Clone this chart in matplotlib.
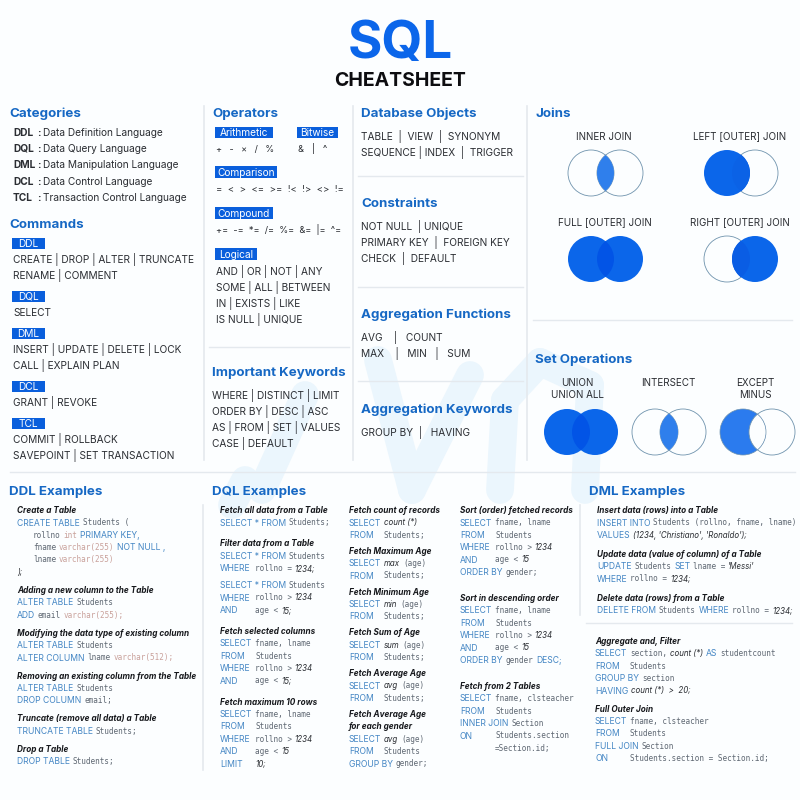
import matplotlib
matplotlib.use("Agg")
import matplotlib.pyplot as plt
from matplotlib.patches import Circle, Rectangle

plt.rcParams['font.family'] = ['Inter', 'DejaVu Sans']

BLUE = "#0b66ea"
TAG = "#0a5fdc"
HEAD = "#1668c4"
KW = "#4486c4"
INK = "#2b2e33"
MONO = "#5f6873"
PINK = "#c9a19b"
RULE = "#e4e9ee"
PALE = "#ebf6fd"

# text of the cheat sheet
categories = [("DDL", "Data Definition Language"), ("DQL", "Data Query Language"),
              ("DML", "Data Manipulation Language"), ("DCL", "Data Control Language"),
              ("TCL", "Transaction Control Language")]
commands = [("DDL", ["CREATE | DROP | ALTER | TRUNCATE", "RENAME | COMMENT"]),
            ("DQL", ["SELECT"]),
            ("DML", ["INSERT | UPDATE | DELETE | LOCK", "CALL | EXPLAIN PLAN"]),
            ("DCL", ["GRANT | REVOKE"]),
            ("TCL", ["COMMIT | ROLLBACK", "SAVEPOINT | SET TRANSACTION"])]
arithmetic = "+   -   ×   /   %"
bitwise = "&   |   ^"
comparison = "=  <  >  <=  >=  !<  !>  <>  !="
compound = "+=  -=  *=  /=  %=  &=  |=  ^="
logical = ["AND | OR | NOT | ANY", "SOME | ALL | BETWEEN", "IN | EXISTS | LIKE", "IS NULL | UNIQUE"]
keywords = ["WHERE | DISTINCT | LIMIT", "ORDER BY | DESC | ASC", "AS | FROM | SET | VALUES", "CASE | DEFAULT"]
db_objects = ["TABLE  |  VIEW  |  SYNONYM", "SEQUENCE | INDEX  |  TRIGGER"]
constraints = ["NOT NULL  | UNIQUE", "PRIMARY KEY  |  FOREIGN KEY", "CHECK  |  DEFAULT"]
agg_functions = ["AVG    |   COUNT", "MAX    |   MIN   |   SUM"]
agg_keywords = ["GROUP BY  |   HAVING"]

# k keyword, m mono, p pink mono, i italic, t jump to column, n indent
ddl_examples = [
    ("Create a Table", ["k:CREATE TABLE|m:Students (", "n|m:rollno|p:int|k:PRIMARY KEY,",
                        "n|m:fname|p:varchar(255)|k:NOT NULL ,", "n|m:lname|p:varchar(255)", "i:);"]),
    ("Adding a new column to the Table", ["k:ALTER TABLE|m:Students", "k:ADD|m:email|p:varchar(255);"]),
    ("Modifying the data type of existing column", ["k:ALTER TABLE|m:Students", "k:ALTER COLUMN|m:lname|p:varchar(512);"]),
    ("Removing an existing column from the Table", ["k:ALTER TABLE|m:Students", "k:DROP COLUMN|m:email;"]),
    ("Truncate (remove all data) a Table", ["k:TRUNCATE TABLE|m:Students;"]),
    ("Drop a Table", ["k:DROP TABLE|m:Students;"]),
]
dql_examples = [
    ("Fetch all data from a Table", ["k:SELECT * FROM|m:Students;"]),
    ("Filter data from a Table", ["k:SELECT * FROM|m:Students", "k:WHERE|t|m:rollno =|i:1234;"]),
    (None, ["k:SELECT * FROM|m:Students", "k:WHERE|t|m:rollno >|i:1234", "k:AND|t|m:age <|i:15;"]),
    ("Fetch selected columns", ["k:SELECT|t|m:fname, lname", "k:FROM|t|m:Students",
                                "k:WHERE|t|m:rollno >|i:1234", "k:AND|t|m:age <|i:15;"]),
    ("Fetch maximum 10 rows", ["k:SELECT|t|m:fname, lname", "k:FROM|t|m:Students", "k:WHERE|t|m:rollno >|i:1234",
                               "k:AND|t|m:age <|i:15", "k:LIMIT|t|i:10;"]),
]
agg_examples = [
    ("Fetch count of records", ["k:SELECT|i:count (*)", "k:FROM|t|m:Students;"]),
    ("Fetch Maximum Age", ["k:SELECT|i:max|m:(age)", "k:FROM|t|m:Students;"]),
    ("Fetch Minimum Age", ["k:SELECT|i:min|m:(age)", "k:FROM|t|m:Students;"]),
    ("Fetch Sum of Age", ["k:SELECT|i:sum|m:(age)", "k:FROM|t|m:Students;"]),
    ("Fetch Average Age", ["k:SELECT|i:avg|m:(age)", "k:FROM|t|m:Students;"]),
    ("Fetch Average Age\nfor each gender", ["k:SELECT|i:avg|m:(age)", "k:FROM|t|m:Students", "k:GROUP BY|m:gender;"]),
]
sort_examples = [
    ("Sort (order) fetched records", ["k:SELECT|t|m:fname, lname", "k:FROM|t|m:Students", "k:WHERE|t|m:rollno >|i:1234",
                                      "k:AND|t|m:age <|i:15", "k:ORDER BY|m:gender;"]),
    ("Sort in descending order", ["k:SELECT|t|m:fname, lname", "k:FROM|t|m:Students", "k:WHERE|t|m:rollno >|i:1234",
                                  "k:AND|t|m:age <|i:15", "k:ORDER BY|m:gender|k:DESC;"]),
    ("Fetch from 2 Tables", ["k:SELECT|t|m:fname, clsteacher", "k:FROM|t|m:Students", "k:INNER JOIN|m:Section",
                             "k:ON|t|m:Students.section", "t|m:=Section.id;"]),
]
dml_examples = [
    ("Insert data (rows) into a Table", ["k:INSERT INTO|m:Students (rollno, fname, lname)",
                                         "k:VALUES|i:(1234, 'Christiano', 'Ronaldo');"]),
    ("Update data (value of column) of a Table", ["k:UPDATE|m:Students|k:SET|m:lname =|i:'Messi'",
                                                  "k:WHERE|m:rollno =|i:1234;"]),
    ("Delete data (rows) from a Table", ["k:DELETE FROM|m:Students|k:WHERE|m:rollno =|i:1234;"]),
]
other_examples = [
    ("Aggregate and, Filter", ["k:SELECT|m:section,|i:count (*)|k:AS|m:studentcount", "k:FROM|t|m:Students",
                               "k:GROUP BY|m:section", "k:HAVING|i:count (*)  >  20;"]),
    ("Full Outer Join", ["k:SELECT|t|m:fname, clsteacher", "k:FROM|t|m:Students", "k:FULL JOIN|m:Section",
                         "k:ON|t|m:Students.section = Section.id;"]),
]

fig = plt.figure(figsize=(8, 8), dpi=100, facecolor="#fcfeff")
ax = fig.add_axes([0, 0, 1, 1])
ax.set_xlim(0, 800)
ax.set_ylim(800, 0)
ax.axis("off")
renderer = fig.canvas.get_renderer()


def heading(x, y, s):
    ax.text(x, y + 4.8, s, color=HEAD, fontsize=9.6, fontweight="bold", va="baseline")


def plain(x, y, s, **kw):
    opts = dict(color=INK, fontsize=7.3, va="baseline")
    opts.update(kw)
    return ax.text(x, y + opts["fontsize"] * 0.5, s, **opts)


def rows(x, y, lines, step=16.2):
    for n, s in enumerate(lines):
        plain(x, y + n * step, s)


def tag(x0, x1, y0, y1, s):
    ax.add_patch(Rectangle((x0, y0), x1 - x0, y1 - y0, color=TAG, lw=0, zorder=2))
    ax.text((x0 + x1) / 2, (y0 + y1) / 2 + 3.6, s, color="white", fontsize=7.3, ha="center", va="baseline", zorder=3)


def code_line(x, y, line):
    pos = x
    for seg in line.split("|"):
        if seg == "t":
            pos = x + 35
            continue
        if seg == "n":
            pos = x + 16
            continue
        kind, s = seg.split(":", 1)
        if kind == "k":
            t = plain(pos, y, s, color=KW, fontsize=6.2)
        elif kind == "m":
            t = plain(pos, y, s, color=MONO, fontsize=5.5, family="DejaVu Sans Mono")
        elif kind == "p":
            t = plain(pos, y, s, color=PINK, fontsize=5.5, family="DejaVu Sans Mono")
        else:
            t = plain(pos, y, s, color=INK, fontsize=5.7, style="italic")
        pos = t.get_window_extent(renderer).x1 + 2.8


def examples(x, y, blocks, gap, step=12.4):
    for title, lines in blocks:
        if title is None:
            y -= 4
        else:
            for part in title.split("\n"):
                plain(x, y, part, fontsize=5.9, style="italic", fontweight="bold", color="#16181c")
                y += step
        for line in lines:
            code_line(x, y, line)
            y += step
        y += gap - step


def venn(xa, xb, y, mode, r=23):
    a = Circle((xa, y), r, fc="none", ec="none")
    b = Circle((xb, y), r, fc="none", ec="none")
    ax.add_patch(a)
    ax.add_patch(b)
    fill_a = mode in ("left", "full", "except")
    fill_b = mode in ("right", "full")
    # outlines of empty circles go under the fills, except the hole of EXCEPT
    if not fill_b:
        ax.add_patch(Circle((xb, y), r, fc="none", ec="#6f93ad", lw=0.6, zorder=1.5 if mode != "except" else 3))
    if not fill_a:
        ax.add_patch(Circle((xa, y), r, fc="none", ec="#6f93ad", lw=0.6, zorder=1.5))
    if fill_a:
        ax.add_patch(Circle((xa, y), r, fc=BLUE if mode != "except" else "#2b7bee", ec="none", zorder=2))
    if fill_b:
        ax.add_patch(Circle((xb, y), r, fc=BLUE, ec="none", zorder=2))
    lens = Circle((xa, y), r, ec="none", zorder=2.2)
    lens.set_facecolor({"full": "#0254e6", "inner": "#2f7fec", "except": "#fcfeff",
                        "left": "#0b62e6", "right": "#0a5de4"}[mode])
    ax.add_patch(lens)
    lens.set_clip_path(b)
    if mode == "except":
        ax.add_patch(Circle((xa, y), r, fc="none", ec="#6f93ad", lw=0.5, zorder=3))


# pale watermark behind everything
for seg in [((262, 490), (305, 395)), ((232, 505), (245, 480)), ((378, 360), (412, 490)),
            ((412, 490), (470, 375)), ((500, 490), (505, 400)), ((505, 400), (540, 362)),
            ((540, 362), (590, 385)), ((590, 385), (585, 490))]:
    ax.plot([seg[0][0], seg[1][0]], [seg[0][1], seg[1][1]], color=PALE, lw=20,
            solid_capstyle="round", zorder=0)

# title
ax.text(400, 58, "SQL", color=BLUE, fontsize=38, fontweight="bold", ha="center", va="baseline")
ax.text(400, 86.5, "CHEATSHEET", color="#0d0d10", fontsize=14, fontweight="bold", ha="center", va="baseline")

# rules
for x, y0, y1 in [(204, 106, 460), (353, 106, 460), (527, 106, 460), (203, 505, 770), (580, 505, 615)]:
    ax.plot([x, x], [y0, y1], color=RULE, lw=1.2, zorder=1)
for y, x0, x1 in [(347, 209, 349), (176, 358, 523), (287, 358, 523), (381, 358, 523),
                  (320, 533, 792), (472, 10, 795), (623, 586, 792)]:
    ax.plot([x0, x1], [y, y], color=RULE, lw=1.0, zorder=1)

# left column
heading(9, 112, "Categories")
for n, (short, full) in enumerate(categories):
    y = 132 + n * 16.3
    plain(13, y, short, fontweight="bold")
    plain(37, y, ":", fontweight="bold")
    plain(43, y, full)

heading(9, 223, "Commands")
y_tags = [238, 291, 328, 381, 418]
for y, (name, lines) in zip(y_tags, commands):
    tag(12, 45, y, y + 10.5, name)
    rows(13, y + 21, lines)

# operators
heading(212, 112, "Operators")
tag(215, 273, 127, 138, "Arithmetic")
tag(297, 338, 127, 138, "Bitwise")
plain(216, 148.5, arithmetic, fontsize=6.5)
plain(298, 148.5, bitwise, fontsize=6.7)
tag(215, 277, 166, 178, "Comparison")
plain(216, 189, comparison, fontsize=6.9)
tag(215, 273, 207, 219, "Compound")
plain(216, 230, compound, fontsize=6.6)
tag(215, 257, 248, 260, "Logical")
rows(216, 271, logical)
heading(212, 371, "Important Keywords")
rows(212, 395, keywords)

# middle column
heading(361, 112, "Database Objects")
rows(361, 136, db_objects)
heading(361, 202, "Constraints")
rows(361, 226, constraints)
heading(361, 313, "Aggregation Functions")
rows(361, 337, agg_functions)
heading(361, 408, "Aggregation Keywords")
rows(361, 432, agg_keywords)

# joins and set operations
heading(535, 112, "Joins")
heading(535, 358, "Set Operations")
for x, y, s in [(604, 136, "INNER JOIN"), (740, 136, "LEFT [OUTER] JOIN"),
                (605, 222, "FULL [OUTER] JOIN"), (740, 222, "RIGHT [OUTER] JOIN"),
                (577, 382, "UNION"), (577, 394, "UNION ALL"), (668, 382, "INTERSECT"),
                (755, 382, "EXCEPT"), (755, 394, "MINUS")]:
    plain(x, y, s, ha="center", fontsize=7.1)
venn(591, 620, 173, "inner")
venn(727, 755, 173, "left")
venn(591, 620, 259, "full")
venn(727, 755, 259, "right")
venn(567, 595, 432, "full")
venn(655, 683, 432, "inner")
venn(743, 772, 432, "except")

# examples
heading(9, 490, "DDL Examples")
heading(212, 490, "DQL Examples")
heading(589, 490, "DML Examples")
examples(17, 510, ddl_examples, 18)
examples(220, 510, dql_examples, 21)
examples(349, 510, agg_examples, 16)
examples(460, 510, sort_examples, 26)
examples(597, 510, dml_examples, 19)
examples(595, 641, other_examples, 18)

fig.savefig("out.png", dpi=100, facecolor=fig.get_facecolor())
